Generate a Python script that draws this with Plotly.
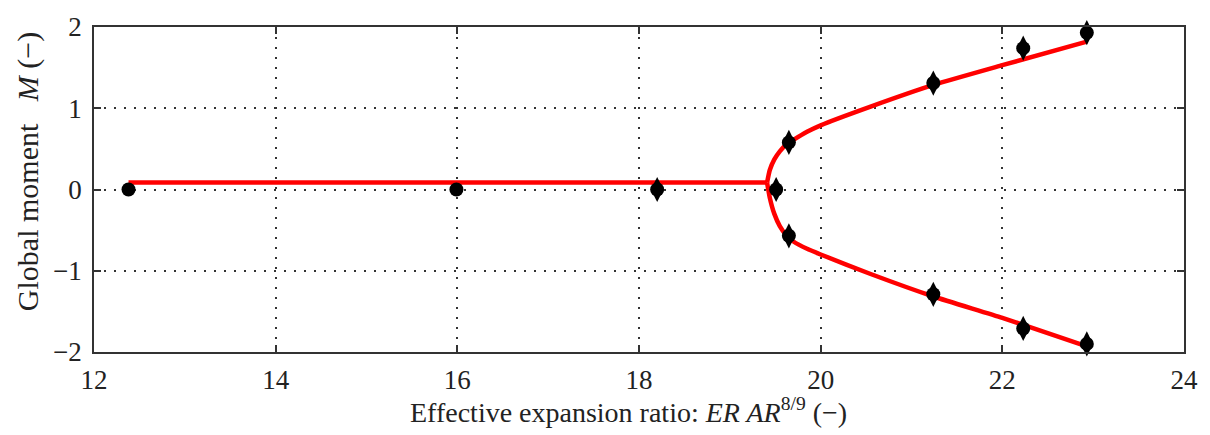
import plotly.graph_objects as go

# Measured global moment vs effective expansion ratio
meas_x = [12.38, 15.99, 18.2, 19.51, 19.65, 19.65, 21.24, 21.24, 22.23, 22.23, 22.93, 22.93]
meas_y = [0.0, 0.0, 0.0, 0.0, 0.58, -0.57, 1.31, -1.29, 1.74, -1.71, 1.93, -1.90]

# Model curve: symmetric branch up to the bifurcation, then two asymmetric branches
sym_x = [12.38, 19.41]
sym_y = [0.085, 0.085]

upper_x = [19.41, 19.44, 19.49, 19.55, 19.62, 19.70, 19.85, 20.0, 20.55, 21.25, 22.0, 22.93]
upper_y = [0.085, 0.24, 0.37, 0.47, 0.55, 0.61, 0.71, 0.79, 1.02, 1.29, 1.53, 1.82]

lower_x = [19.41, 19.44, 19.49, 19.55, 19.62, 19.70, 19.85, 20.0, 20.55, 21.25, 22.0, 22.93]
lower_y = [0.085, -0.10, -0.30, -0.45, -0.56, -0.64, -0.73, -0.80, -1.04, -1.32, -1.58, -1.93]

x_ticks = [12, 14, 16, 18, 20, 22, 24]
y_ticks = [-2, -1, 0, 1, 2]

RED = "#ff0000"
FONT = "Liberation Serif"

fig = go.Figure()

line_style = dict(color=RED, width=4.5)
fig.add_trace(go.Scatter(x=sym_x, y=sym_y, mode="lines", line=line_style, hoverinfo="skip"))
fig.add_trace(go.Scatter(x=upper_x, y=upper_y, mode="lines", line=dict(shape="spline", smoothing=0.5, **line_style)))
fig.add_trace(go.Scatter(x=lower_x, y=lower_y, mode="lines", line=dict(shape="spline", smoothing=0.5, **line_style)))

# Scattered repeat measurements give the points a slightly elongated look
fig.add_trace(go.Scatter(
    x=meas_x[2:], y=meas_y[2:], mode="markers",
    marker=dict(symbol="diamond-tall", size=18, color="black", line=dict(width=0)),
    cliponaxis=False,
))
fig.add_trace(go.Scatter(
    x=meas_x, y=meas_y, mode="markers",
    marker=dict(symbol="circle", size=14, color="black", line=dict(width=0)),
    cliponaxis=False,
))

axis_common = dict(
    showline=True, linecolor="#333333", linewidth=1.5, mirror="ticks",
    ticks="inside", ticklen=7, tickwidth=1.5, tickcolor="#333333",
    showgrid=True, gridcolor="#333333", gridwidth=1.5, griddash="2px,8px",
    zeroline=False,
    tickfont=dict(family=FONT, size=27, color="#222222"),
)

fig.update_xaxes(range=[12, 24], tickvals=x_ticks, ticklabelstandoff=3, **axis_common)
fig.update_yaxes(range=[-2, 2], tickvals=y_ticks, ticklabelstandoff=5, **axis_common)

fig.add_annotation(
    text="Effective expansion ratio: <i>ER AR</i><sup>8/9</sup> (−)",
    xref="paper", yref="paper", x=0.49, y=-0.18, xanchor="center", yanchor="middle",
    showarrow=False, font=dict(family=FONT, size=28, color="#222222"),
)
fig.add_annotation(
    text="Global moment\u00a0\u00a0\u00a0<i>M</i> (−)",
    xref="paper", yref="paper", x=-0.061, y=0.555, xanchor="center", yanchor="middle",
    textangle=-90, showarrow=False, font=dict(family=FONT, size=30, color="#222222"),
)

fig.update_layout(
    width=1210, height=435,
    margin=dict(l=94, r=22, t=21, b=83),
    paper_bgcolor="white", plot_bgcolor="white",
    showlegend=False,
)

fig.write_html("out.html")
